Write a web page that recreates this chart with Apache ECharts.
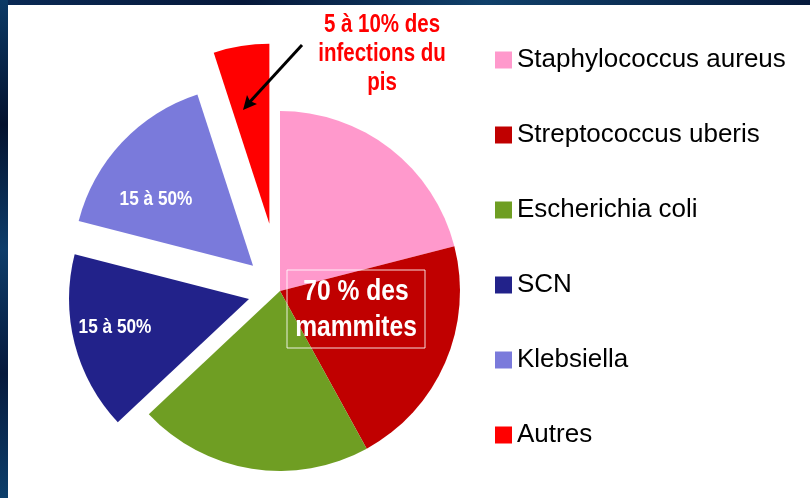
<!DOCTYPE html>
<html>
<head>
<meta charset="utf-8">
<script src="https://cdn.jsdelivr.net/npm/echarts@6/dist/echarts.min.js"></script>
<style>
  html, body { margin: 0; padding: 0; background: #fff; }
  #chart { width: 810px; height: 498px; }
</style>
</head>
<body>
<div id="chart"></div>
<script>
// données : part des mammites par germe (%)
var categories = ['Staphylococcus aureus', 'Streptococcus uberis', 'Escherichia coli', 'SCN', 'Klebsiella', 'Autres'];
var shares = [21, 21, 21, 16, 16, 5];
var sliceColors = ['#FF99CC', '#C00000', '#6F9E23', '#22228A', '#7A7ADB', '#FF0000'];

var sans = "'Liberation Sans', Arial, sans-serif";
var myChart = echarts.init(document.getElementById('chart'));

// une série par groupe de parts détachées (décalage différent pour chacune)
function pieSeries(visible, offset) {
  return {
    type: 'pie',
    center: [280, 291],
    radius: 180,
    startAngle: 90,
    clockwise: true,
    silent: true,
    animation: false,
    avoidLabelOverlap: false,
    selectedMode: 'multiple',
    selectedOffset: offset,
    label: { show: false },
    labelLine: { show: false },
    emphasis: { disabled: true },
    data: shares.map(function (v, i) {
      var on = visible.indexOf(i) >= 0;
      return {
        name: on ? categories[i] : '_' + i,
        value: v,
        selected: on && offset > 0,
        itemStyle: { color: on ? sliceColors[i] : 'rgba(0,0,0,0)', borderWidth: 0 }
      };
    })
  };
}

// texte "étroit" : police Arial compressée horizontalement
function narrowText(x, y, txt, color, size, lh, valign) {
  return {
    type: 'text', z: 101, x: x, y: y, scaleX: 0.82,
    style: { text: txt, fill: color, font: 'bold ' + size + 'px ' + sans,
      lineHeight: lh, align: 'center', verticalAlign: valign || 'middle' }
  };
}

var option = {
  backgroundColor: '#ffffff',
  legend: {
    orient: 'vertical',
    left: 490,
    top: 40,
    itemWidth: 17,
    itemHeight: 17,
    itemGap: 45,
    icon: 'rect',
    selectedMode: false,
    data: categories,
    textStyle: { color: '#000', fontSize: 26, lineHeight: 30, fontFamily: sans }
  },
  series: [
    pieSeries([0, 1, 2], 0),
    pieSeries([3], 32),
    pieSeries([4], 37),
    pieSeries([5], 68)
  ],
  graphic: [
    // cadre bleu foncé (haut et gauche)
    { type: 'rect', shape: { x: 0, y: 0, width: 810, height: 5 },
      style: { fill: new echarts.graphic.LinearGradient(0, 0, 1, 0, [
        { offset: 0, color: '#0a2a55' }, { offset: 0.3, color: '#06183a' },
        { offset: 0.6, color: '#10406a' }, { offset: 1, color: '#061a3c' }]) } },
    { type: 'rect', shape: { x: 0, y: 0, width: 8, height: 498 },
      style: { fill: new echarts.graphic.LinearGradient(0, 0, 0, 1, [
        { offset: 0, color: '#0c3a66' }, { offset: 0.25, color: '#04122e' },
        { offset: 0.5, color: '#0e3d6a' }, { offset: 0.75, color: '#06193c' },
        { offset: 1, color: '#0d3f6b' }]) } },
    // étiquettes des parts détachées
    narrowText(115, 327, '15 à 50%', '#fff', 21, 24),
    narrowText(156, 199, '15 à 50%', '#fff', 21, 24),
    // encadré central
    { type: 'rect', z: 100, shape: { x: 287, y: 270, width: 138, height: 78 },
      style: { fill: 'none', stroke: 'rgba(255,255,255,0.85)', lineWidth: 1 } },
    narrowText(356, 310, '70 % des\nmammites', '#fff', 30, 36),
    // annotation rouge + flèche
    narrowText(382, 11, '5 à 10% des\ninfections du\npis', '#FF0000', 25, 29, 'top'),
    { type: 'line', z: 100, shape: { x1: 302, y1: 45, x2: 247, y2: 105 },
      style: { stroke: '#000', lineWidth: 3 } },
    { type: 'polygon', z: 100, shape: { points: [[243, 110], [257, 104], [250, 101], [247, 95]] },
      style: { fill: '#000' } }
  ]
};
myChart.setOption(option);
</script>
</body>
</html>
